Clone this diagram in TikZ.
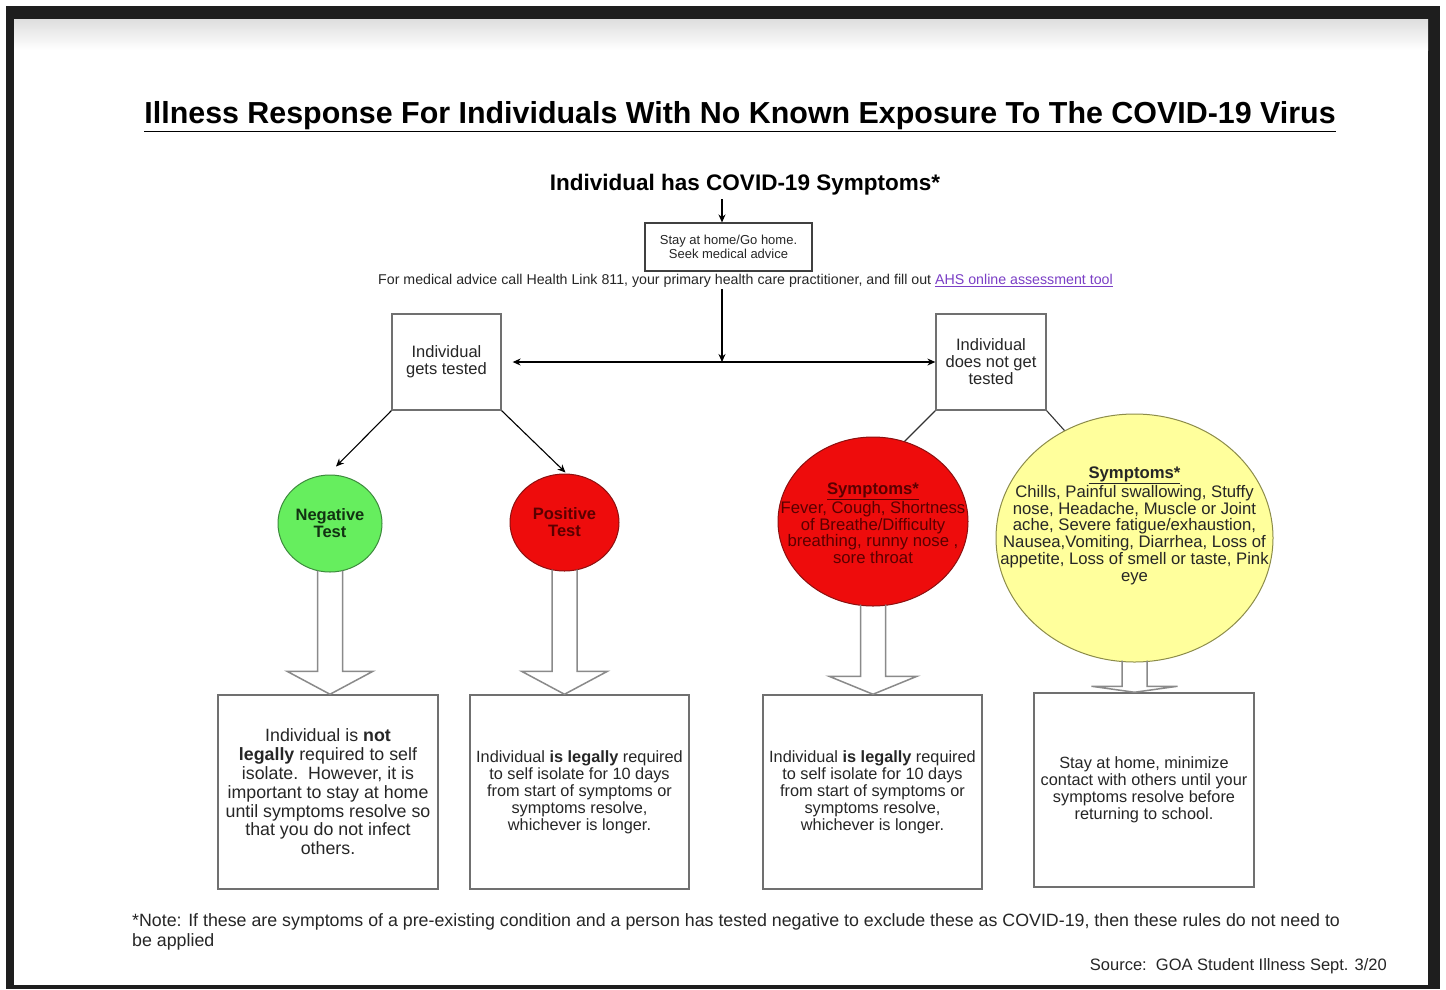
\documentclass[tikz,border=0pt]{standalone}
\usepackage{fontspec}
\setmainfont{Liberation Sans}
\usetikzlibrary{calc,shapes.geometric,arrows.meta}
\definecolor{framegrey}{HTML}{1E1E1E}
\definecolor{inkgrey}{HTML}{262626}
\definecolor{boxline}{HTML}{707070}
\definecolor{arrowline}{HTML}{8A8A8A}
\definecolor{negfill}{HTML}{66EE5E}
\definecolor{negline}{HTML}{3C8A3C}
\definecolor{negink}{HTML}{123212}
\definecolor{posfill}{HTML}{EE0C0C}
\definecolor{posline}{HTML}{8C1010}
\definecolor{posink}{HTML}{5A0000}
\definecolor{yelfill}{HTML}{FFFF9C}
\definecolor{yelline}{HTML}{8C8C4A}
\definecolor{linkpurple}{HTML}{7B3FC6}
\newcommand{\titlefont}{\fontsize{30.4}{34}\selectfont\bfseries}
\newcommand{\headfont}{\fontsize{22.5}{26}\selectfont\bfseries}
\newcommand{\tinyfont}{\fontsize{13}{14.5}\selectfont}
\newcommand{\advicefont}{\fontsize{14.2}{16}\selectfont}
\newcommand{\choicefont}{\fontsize{16.5}{17}\selectfont}
\newcommand{\circlefont}{\fontsize{16.5}{17}\selectfont\bfseries}
\newcommand{\symfont}{\fontsize{16.7}{16.8}\selectfont}
\newcommand{\rulefont}{\fontsize{16.3}{17}\selectfont}
\newcommand{\widefont}{\fontsize{17.8}{18.8}\selectfont}
\newcommand{\notefont}{\fontsize{17.8}{20}\selectfont}
\newcommand{\sourcefont}{\fontsize{16.5}{20}\selectfont}
\tikzset{
  flowarrow/.style={draw=black,line width=1.1pt,-{Stealth[length=8pt,width=7pt]}},
  plainline/.style={draw=black!80,line width=1.1pt},
  smallbox/.style={draw=black!75,line width=1.1pt,inner sep=0pt,align=center,text=inkgrey,
    font=\tinyfont},
  choicebox/.style={draw=boxline,line width=1.3pt,inner sep=0pt,align=center,text=inkgrey,
    font=\choicefont},
  rulebox/.style={draw=boxline,line width=1.5pt,inner sep=0pt,align=center,text=inkgrey,
    minimum height=194pt,font=\rulefont},
  testcircle/.style={ellipse,line width=1pt,inner sep=0pt,align=center,font=\circlefont},
  symcircle/.style={ellipse,line width=1pt,inner sep=0pt},
  symtext/.style={align=center,inner sep=0pt,font=\symfont},
  blockarrow/.style={draw=arrowline,line width=1.5pt,line join=miter}
}
% hollow arrow: from circle, to box, head depth, head half width
\newcommand{\hollowarrow}[4]{%
  \draw[blockarrow] let \p1=(#1.south), \p2=(#2.north) in
    (\x1-12.5pt,\y1+2pt) -- (\x1-12.5pt,\y2+#3) -- (\x1-#4,\y2+#3) -- (\x1,\y2)
    -- (\x1+#4,\y2+#3) -- (\x1+12.5pt,\y2+#3) -- (\x1+12.5pt,\y1+2pt);
}

\begin{document}
\begin{tikzpicture}[x=1pt,y=-1pt]
  \useasboundingbox (0,0) rectangle (1446,989);

  % screen frame
  \fill[white] (0,0) rectangle (1446,989);
  \fill[framegrey] (6,6) rectangle (1440,989);
  \fill[white] (14,19) rectangle (1428,985);
  \shade[top color=black!13,bottom color=white] (14,19) rectangle (1428,50);

  % heading
  \node[text=black,font=\titlefont] (title) at (740,117) {\underline{Illness Response For Individuals With No Known Exposure To The COVID-19 Virus}};
  \node[text=black,font=\headfont] (symptoms) at (745,185) {Individual has COVID-19 Symptoms*};
  \node[smallbox,minimum width=167pt,minimum height=48pt] (stayhome) at (728.5,247)
    {Stay at home/Go home.\\Seek medical advice};
  \node[text=inkgrey,inner sep=1pt,font=\advicefont] (advice) at (745.5,281) {For medical advice call Health Link 811, your primary health care practitioner, and fill out \textcolor{linkpurple}{\underline{AHS online assessment tool}}};
  \coordinate (split) at (722,362);

  \draw[flowarrow] (symptoms.south -| split) -- (stayhome.north -| split);
  \draw[flowarrow] (advice.south -| split) -- (split);

  % tested or not
  \node[choicebox,minimum width=109pt,minimum height=96pt] (tested) at (446.5,362)
    {Individual\\gets tested};
  \node[choicebox,minimum width=110pt,minimum height=96pt] (nottested) at (991,362)
    {Individual\\does not get\\tested};
  \draw[flowarrow,shorten >=11pt] (split) -- (tested.east);
  \draw[flowarrow] (split) -- (nottested.west);
  \draw[plainline] (nottested.south west) -- ++(-40,40);
  \draw[plainline] (nottested.south east) -- ++(26,29);

  % circles
  \node[testcircle,fill=negfill,draw=negline,text=negink,minimum width=104pt,minimum height=97pt]
    (negative) at (330,523.5) {Negative\\Test};
  \node[testcircle,fill=posfill,draw=posline,text=posink,minimum width=109pt,minimum height=97pt]
    (positive) at (564.5,522.5) {Positive\\Test};
  \node[symcircle,fill=posfill,draw=posline,minimum width=190pt,minimum height=169pt,
    label={[symtext,text=posink,yshift=-2pt]center:{\textbf{\underline{Symptoms*}}\\Fever, Cough, Shortness\\of Breathe/Difficulty\\breathing, runny nose ,\\sore throat}}]
    (redsym) at (873,521.5) {};
  \node[symcircle,fill=yelfill,draw=yelline,minimum width=277pt,minimum height=248pt,
    label={[symtext,text=inkgrey,yshift=12pt]center:{\textbf{\underline{Symptoms*}}\\Chills, Painful swallowing, Stuffy\\nose, Headache, Muscle or Joint\\ache, Severe fatigue/exhaustion,\\Nausea,Vomiting, Diarrhea, Loss of\\appetite, Loss of smell or taste, Pink\\eye}}]
    (yellowsym) at (1134.5,538) {};
  \draw[flowarrow] (tested.south west) -- ($(negative.north)+(6,-8)$);
  \draw[flowarrow] (tested.south east) -- ($(positive.north)+(1,-1)$);

  % outcome boxes
  \node[rulebox,minimum width=220pt,font=\widefont] (negbox) at (328,792)
    {Individual is \textbf{not}\\\textbf{legally} required to self\\isolate.\ \ However, it is\\important to stay at home\\until symptoms resolve so\\that you do not infect\\others.};
  \node[rulebox,minimum width=219pt] (posbox) at (579.5,792)
    {Individual \textbf{is legally} required\\to self isolate for 10 days\\from start of symptoms or\\symptoms resolve,\\whichever is longer.};
  \node[rulebox,minimum width=219pt] (redbox) at (872.5,792)
    {Individual \textbf{is legally} required\\to self isolate for 10 days\\from start of symptoms or\\symptoms resolve,\\whichever is longer.};
  \node[rulebox,minimum width=220pt] (yellowbox) at (1144,790)
    {Stay at home, minimize\\contact with others until your\\symptoms resolve before\\returning to school.};

  \hollowarrow{negative}{negbox}{23pt}{43pt}
  \hollowarrow{positive}{posbox}{23pt}{43pt}
  \hollowarrow{redsym}{redbox}{18pt}{44pt}
  \hollowarrow{yellowsym}{yellowbox}{6pt}{43pt}

  % footnote
  \node[anchor=north west,align=left,text=inkgrey,inner sep=0pt,font=\notefont] (note) at (132,913)
    {*Note: If these are symptoms of a pre-existing condition and a person has tested negative to exclude these as COVID-19, then these rules do not need to\\be applied};
  \node[anchor=east,text=inkgrey,inner sep=0pt,font=\sourcefont] (source) at (1387,966)
    {Source:\ \ GOA Student Illness Sept. 3/20};
\end{tikzpicture}
\end{document}
